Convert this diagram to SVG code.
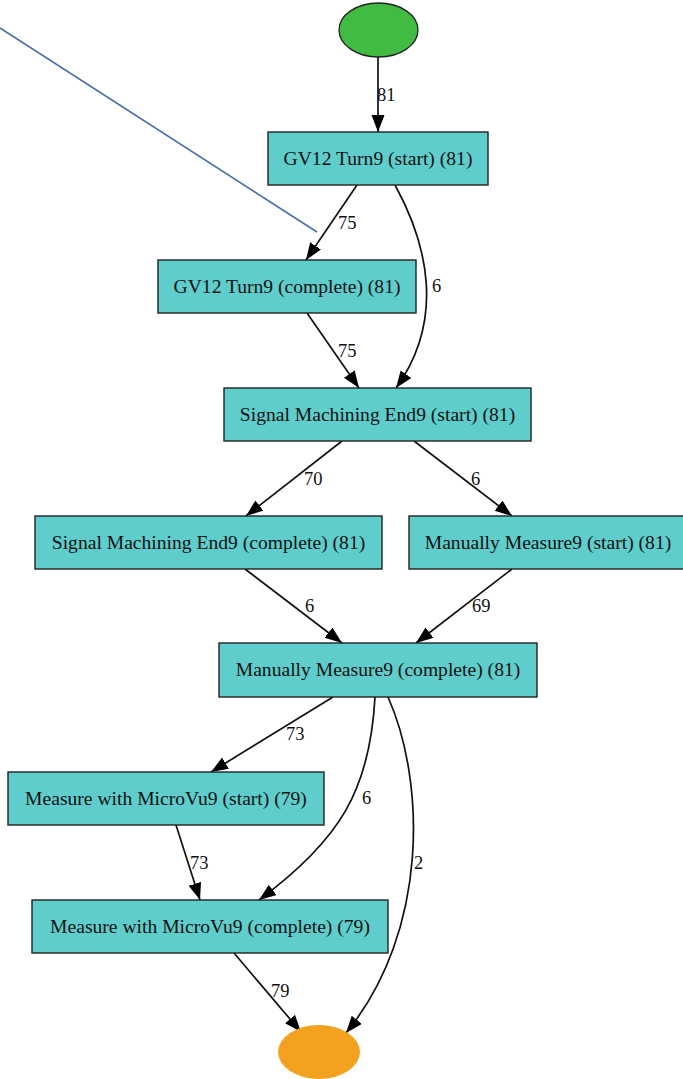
<svg xmlns="http://www.w3.org/2000/svg" width="683" height="1079" viewBox="0 0 683 1079">
<style>
.box{fill:#5ecdcb;stroke:#222;stroke-width:1.4}
.lbl{font-family:"Liberation Serif","Times New Roman",serif;font-size:19.6px;fill:#111;text-anchor:middle}
.el{font-family:"Liberation Serif","Times New Roman",serif;font-size:18.5px;fill:#111}
.edge{fill:none;stroke:#111;stroke-width:1.7;marker-end:url(#arr)}
</style>
<defs>
<marker id="arr" markerUnits="userSpaceOnUse" markerWidth="20" markerHeight="16" refX="17" refY="6.5" orient="auto">
<path d="M0,0 L17,6.5 L0,13 Z" fill="#000"/>
</marker>
</defs>
<rect width="683" height="1079" fill="#fff"/>
<line x1="0" y1="28" x2="317" y2="232" stroke="#4a72a8" stroke-width="1.7"/>
<g id="connectors">
<path class="edge" d="M378,57 L378,132"/>
<text class="el" x="377" y="101">81</text>
<path class="edge" d="M357,185 L306,260"/>
<text class="el" x="338" y="229">75</text>
<path class="edge" d="M395,185 C428,245 445,320 396,388"/>
<text class="el" x="432" y="292">6</text>
<path class="edge" d="M307,313 L359,388"/>
<text class="el" x="338" y="357">75</text>
<path class="edge" d="M342,441 L246,516"/>
<text class="el" x="304" y="485">70</text>
<path class="edge" d="M414,441 L512,516"/>
<text class="el" x="471" y="485">6</text>
<path class="edge" d="M245,569 L342,643"/>
<text class="el" x="305" y="612">6</text>
<path class="edge" d="M512,569 L416,643"/>
<text class="el" x="472" y="612">69</text>
<path class="edge" d="M333,697 L211,772"/>
<text class="el" x="286" y="740">73</text>
<path class="edge" d="M375,697 C370,790 340,840 259,900"/>
<text class="el" x="362" y="804">6</text>
<path class="edge" d="M388,697 C425,780 430,930 346,1033"/>
<text class="el" x="414" y="869">2</text>
<path class="edge" d="M176,825 L200,900"/>
<text class="el" x="190" y="869">73</text>
<path class="edge" d="M234,953 L301,1032"/>
<text class="el" x="271" y="997">79</text>
</g>
<g id="start"><ellipse cx="378.5" cy="30" rx="39.5" ry="27" fill="#42bb42" stroke="#222" stroke-width="1.3"/></g>
<g id="n1"><rect class="box" x="268" y="132" width="220" height="53"/><text class="lbl" x="378" y="165">GV12 Turn9 (start) (81)</text></g>
<g id="n2"><rect class="box" x="158" y="260" width="258" height="53"/><text class="lbl" x="287" y="293">GV12 Turn9 (complete) (81)</text></g>
<g id="n3"><rect class="box" x="224" y="388" width="307" height="53"/><text class="lbl" x="377.5" y="421">Signal Machining End9 (start) (81)</text></g>
<g id="n4"><rect class="box" x="35" y="516" width="347" height="53"/><text class="lbl" x="208.5" y="549">Signal Machining End9 (complete) (81)</text></g>
<g id="n5"><rect class="box" x="409" y="516" width="282" height="53"/><text class="lbl" x="548" y="549">Manually Measure9 (start) (81)</text></g>
<g id="n6"><rect class="box" x="219" y="643" width="318" height="54"/><text class="lbl" x="378" y="676">Manually Measure9 (complete) (81)</text></g>
<g id="n7"><rect class="box" x="8" y="772" width="316" height="53"/><text class="lbl" x="166" y="805">Measure with MicroVu9 (start) (79)</text></g>
<g id="n8"><rect class="box" x="32" y="900" width="356" height="53"/><text class="lbl" x="210" y="933">Measure with MicroVu9 (complete) (79)</text></g>
<g id="end"><ellipse cx="319" cy="1052" rx="41" ry="27" fill="#f2a21e"/></g>
</svg>
